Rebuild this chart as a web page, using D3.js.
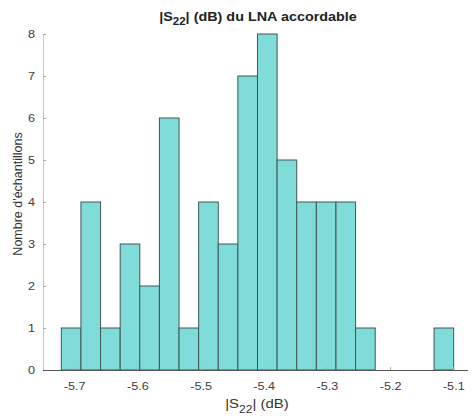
<!DOCTYPE html>
<html>
<head>
<meta charset="utf-8">
<script src="https://cdn.jsdelivr.net/npm/d3@7"></script>
<style>
  body { margin: 0; background: #fff; }
  text { font-family: "Liberation Sans", Arial, sans-serif; }
</style>
</head>
<body>
<script>
  // histogram: 20 bins of width 0.03105
  var binStart = -5.7204;
  var binWidth = 0.03105;
  var counts = [1, 4, 1, 3, 2, 6, 1, 4, 3, 7, 8, 5, 4, 4, 4, 1, 0, 0, 0, 1];
  var xTicks = [-5.7, -5.6, -5.5, -5.4, -5.3, -5.2, -5.1];
  var yTicks = [0, 1, 2, 3, 4, 5, 6, 7, 8];

  var w = 472;
  var h = 419;
  var mLeft = 43, mRight = 468, mTop = 34, mBottom = 370;
  var stretch = 'scale(1.15,1)'; // the reference text is a bit wide

  var bins = counts.map(function(c, i) {
    return { x0: binStart + i * binWidth, x1: binStart + (i + 1) * binWidth, n: c };
  });

  var svg = d3.select('body')
    .append('svg')
    .attr('width', w)
    .attr('height', h);

  var xScale = d3.scaleLinear().domain([-5.7494, -5.0767]).range([mLeft, mRight]);
  var yScale = d3.scaleLinear().domain([0, 8]).range([mBottom, mTop]);

  svg.selectAll('rect.bar')
    .data(bins.filter(function(d) { return d.n > 0; }))
    .enter()
    .append('rect')
    .attr('class', 'bar')
    .attr('x', function(d) { return xScale(d.x0); })
    .attr('y', function(d) { return yScale(d.n); })
    .attr('width', function(d) { return xScale(d.x1) - xScale(d.x0); })
    .attr('height', function(d) { return yScale(0) - yScale(d.n); })
    .attr('fill', '#7fdcd9')
    .attr('stroke', '#3f5656')
    .attr('stroke-width', 1);

  // y axis
  var yAxis = svg.append('g').attr('transform', 'translate(' + mLeft + ',0)')
    .call(d3.axisRight(yScale).tickValues(yTicks).tickSize(3).tickFormat(d3.format('d')));
  yAxis.select('.domain').attr('stroke', '#c4c4c4').attr('d', 'M0.5,' + mTop + 'V' + mBottom);
  yAxis.selectAll('.tick line').attr('stroke', '#b0b0b0');
  yAxis.selectAll('.tick text')
    .attr('x', -7)
    .attr('text-anchor', 'end')
    .attr('transform', stretch)
    .attr('fill', '#404040')
    .attr('font-size', '11px');

  // x axis
  var xAxis = svg.append('g').attr('transform', 'translate(0,' + mBottom + ')')
    .call(d3.axisBottom(xScale).tickValues(xTicks).tickSize(0).tickFormat(d3.format('.1f')));
  xAxis.select('.domain').attr('stroke', '#555').attr('d', 'M' + mLeft + ',0.5H' + mRight);
  xAxis.selectAll('.tick').append('line')
    .attr('y1', 0).attr('y2', -3).attr('stroke', '#b0b0b0');
  xAxis.selectAll('.tick text')
    .attr('y', 12)
    .attr('transform', stretch)
    .attr('fill', '#404040')
    .attr('font-size', '11px')
    .text(function(d) { return d3.format('.1f')(d).replace('−', '-'); });

  // title
  var title = svg.append('text')
    .attr('transform', 'translate(258,21) ' + stretch)
    .attr('text-anchor', 'middle')
    .attr('font-size', '12.5px')
    .attr('font-weight', 'bold')
    .attr('fill', '#222');
  title.append('tspan').text('|S');
  title.append('tspan').attr('dy', 4).attr('font-size', '10px').text('22');
  title.append('tspan').attr('dy', -4).text('| (dB) du LNA accordable');

  // x label
  var xl = svg.append('text')
    .attr('transform', 'translate(257,408) ' + stretch)
    .attr('text-anchor', 'middle')
    .attr('font-size', '13px')
    .attr('fill', '#333');
  xl.append('tspan').text('|S');
  xl.append('tspan').attr('dy', 5).attr('font-size', '10.5px').text('22');
  xl.append('tspan').attr('dy', -5).text('| (dB)');

  // y label
  svg.append('text')
    .attr('transform', 'translate(22,194) rotate(-90)')
    .attr('text-anchor', 'middle')
    .attr('font-size', '12.5px')
    .attr('fill', '#333')
    .text("Nombre d'échantillons");
</script>
</body>
</html>
